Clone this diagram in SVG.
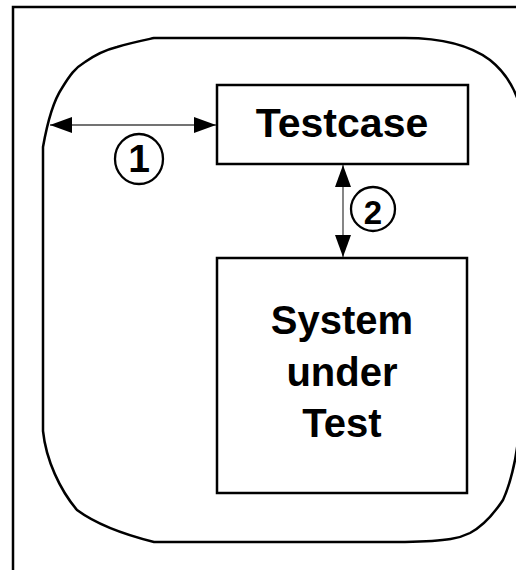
<svg xmlns="http://www.w3.org/2000/svg" width="516" height="570" viewBox="0 0 516 570">
<style>
.frame{fill:none;stroke:#000;stroke-width:2.5}
.box{fill:#fff;stroke:#000;stroke-width:2.5}
.lbl{font-family:"Liberation Sans",Arial,sans-serif;font-weight:bold;fill:#000;text-anchor:middle}
.conn{stroke:#444;stroke-width:1.3;fill:none}
.num{fill:none;stroke:#000;stroke-width:2.3}
</style>
<defs>
<marker id="ah" viewBox="0 0 22 16" refX="22" refY="8" markerWidth="22" markerHeight="16" markerUnits="userSpaceOnUse" orient="auto-start-reverse">
<path d="M0,0 L22,8 L0,16 Z" fill="#000"/>
</marker>
</defs>
<rect class="frame" x="13" y="7" width="520" height="580"/>
<g id="environment">
<path class="frame" d="M154,38 L405,38 C440,38 470,45 490,60 C505,72 513,86 518,100 L518,440 C516,460 510,485 503,500 C495,512 485,525 470,533 C460,538 450,541 405,542 L154,542 C130,536 100,527 77,510 C60,490 46,460 43,431 L43,147 C46,130 52,103 62,88 C70,75 75,68 85,62 C95,55 105,50 117,47 C130,43 140,41 154,38 Z"/>
</g>
<g id="testcase">
<rect class="box" x="217" y="85" width="251" height="79"/>
<text class="lbl" x="342" y="137" font-size="41">Testcase</text>
</g>
<g id="sut">
<rect class="box" x="217" y="258" width="250" height="235"/>
<text class="lbl" x="342" y="334" font-size="40">System</text>
<text class="lbl" x="342" y="386" font-size="40">under</text>
<text class="lbl" x="342" y="437" font-size="40">Test</text>
</g>
<g id="connectors">
<line class="conn" x1="50" y1="125" x2="216" y2="125" marker-start="url(#ah)" marker-end="url(#ah)"/>
<line class="conn" x1="343" y1="165" x2="343" y2="257" marker-start="url(#ah)" marker-end="url(#ah)"/>
</g>
<g id="label1">
<ellipse class="num" cx="139" cy="159" rx="24" ry="25"/>
<text class="lbl" x="139" y="172" font-size="39">1</text>
</g>
<g id="label2">
<ellipse class="num" cx="373" cy="209" rx="22" ry="22"/>
<text class="lbl" x="373" y="224" font-size="33">2</text>
</g>
</svg>
